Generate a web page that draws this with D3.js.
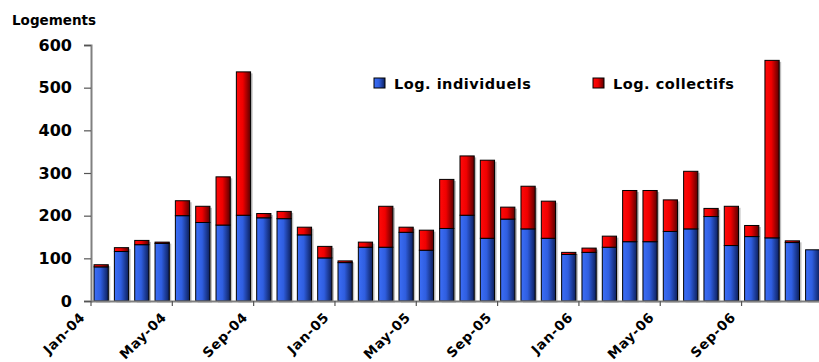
<!DOCTYPE html>
<html><head><meta charset="utf-8">
<script src="https://cdn.jsdelivr.net/npm/d3@7"></script>
<style>body{margin:0;background:#fff}svg{display:block}text{font-family:"DejaVu Sans",sans-serif;font-weight:bold}</style>
</head><body><svg id="c" width="819" height="362"></svg>
<script>
const months = ["Jan-04","Feb-04","Mar-04","Apr-04","May-04","Jun-04","Jul-04","Aug-04","Sep-04","Oct-04","Nov-04","Dec-04",
"Jan-05","Feb-05","Mar-05","Apr-05","May-05","Jun-05","Jul-05","Aug-05","Sep-05","Oct-05","Nov-05","Dec-05",
"Jan-06","Feb-06","Mar-06","Apr-06","May-06","Jun-06","Jul-06","Aug-06","Sep-06","Oct-06","Nov-06","Dec-06"];
const individuels = [80,116,132,135,200,184,178,201,195,193,155,101, 90,126,126,161,119,170,201,147,192,169,147,109, 114,126,139,139,163,169,198,130,151,148,137,120];
const collectifs = [5,9,10,3,35,38,113,336,10,17,18,27, 4,12,96,12,47,115,139,183,28,100,87,5, 10,26,120,120,74,135,19,92,26,416,4,0];
const yTicks = [0,100,200,300,400,500,600];
const tickMonths = ["Jan-04","May-04","Sep-04","Jan-05","May-05","Sep-05","Jan-06","May-06","Sep-06"];
const seriesNames = ["Log. individuels","Log. collectifs"];

const svg = d3.select("#c");
const x0 = 91, yBase = 301, yTop = 45;
const x = d3.scaleBand().domain(months).range([x0, x0 + 36*20.33]).paddingInner(0.3).paddingOuter(0.15);
const y = d3.scaleLinear().domain([0,600]).range([yBase, yTop]);

const defs = svg.append("defs");
function grad(id, c1, c2, c3){
  const g = defs.append("linearGradient").attr("id", id).attr("x1","0").attr("x2","1").attr("y1","0").attr("y2","0");
  g.append("stop").attr("offset","0%").attr("stop-color", c1);
  g.append("stop").attr("offset","45%").attr("stop-color", c2);
  g.append("stop").attr("offset","100%").attr("stop-color", c3);
}
grad("gb", "#3c6ef6", "#2f5ee0", "#0c1f5c");
grad("gr", "#ff0a0a", "#f00000", "#5a0000");

const data = months.map((m,i)=>({m, a: individuels[i], b: collectifs[i]}));

// shadows
svg.append("g").selectAll("rect").data(data).join("rect")
  .attr("x", d => x(d.m) + 2).attr("y", d => y(d.a + d.b) + 1.5)
  .attr("width", x.bandwidth()).attr("height", d => yBase - y(d.a + d.b))
  .attr("fill", "#bdbdbd");

const bars = svg.append("g");
bars.selectAll("rect.a").data(data).join("rect").attr("class","a")
  .attr("x", d => x(d.m)).attr("y", d => y(d.a))
  .attr("width", x.bandwidth()).attr("height", d => yBase - y(d.a))
  .attr("fill", "url(#gb)").attr("stroke", "#000").attr("stroke-width", 1);
bars.selectAll("rect.b").data(data.filter(d=>d.b>0)).join("rect").attr("class","b")
  .attr("x", d => x(d.m)).attr("y", d => y(d.a + d.b))
  .attr("width", x.bandwidth()).attr("height", d => y(d.a) - y(d.a + d.b))
  .attr("fill", "url(#gr)").attr("stroke", "#000").attr("stroke-width", 1);

// y axis
const ya = svg.append("g").attr("transform", `translate(${x0},0)`).call(d3.axisLeft(y).tickValues(yTicks).tickSize(7).tickPadding(12));
ya.select(".domain").attr("stroke", "#808080").attr("stroke-width", 2);
ya.selectAll(".tick line").attr("stroke", "#555").attr("stroke-width", 1.2);
ya.selectAll(".tick text").attr("font-size", 16).attr("fill", "#000").attr("font-family", "DejaVu Sans").attr("font-weight", "bold");

// x axis
const xa = svg.append("g").attr("transform", `translate(0,${yBase})`).call(d3.axisBottom(x).tickValues(tickMonths).tickSize(5).tickSizeOuter(0));
xa.select(".domain").attr("stroke", "#808080").attr("stroke-width", 2);
xa.selectAll(".tick").attr("transform", d => `translate(${x(d) - (x.step()-x.bandwidth())/2},0)`);
xa.selectAll(".tick line").attr("stroke", "#555").attr("stroke-width", 1.2);
xa.selectAll(".tick text").attr("font-size", 13.5).attr("fill", "#000").attr("font-family", "DejaVu Sans").attr("font-weight", "bold")
  .attr("letter-spacing", 0.7)
  .attr("text-anchor", "end").attr("dy", null).attr("y", 0)
  .attr("transform", "translate(-5,17) rotate(-45)");

// title
svg.append("text").attr("x", 12).attr("y", 25).attr("font-size", 13.5).text("Logements");

// legend
const leg = [{n: seriesNames[0], f: "url(#gb)", x: 374}, {n: seriesNames[1], f: "url(#gr)", x: 593}];
const lg = svg.append("g").selectAll("g").data(leg).join("g").attr("transform", d => `translate(${d.x},78)`);
lg.append("rect").attr("width", 11).attr("height", 10).attr("fill", d => d.f).attr("stroke", "#000").attr("stroke-width", 1);
lg.append("text").attr("x", 20).attr("y", 11).attr("font-size", 14.5).attr("letter-spacing", 0.5).text(d => d.n);
</script></body></html>
